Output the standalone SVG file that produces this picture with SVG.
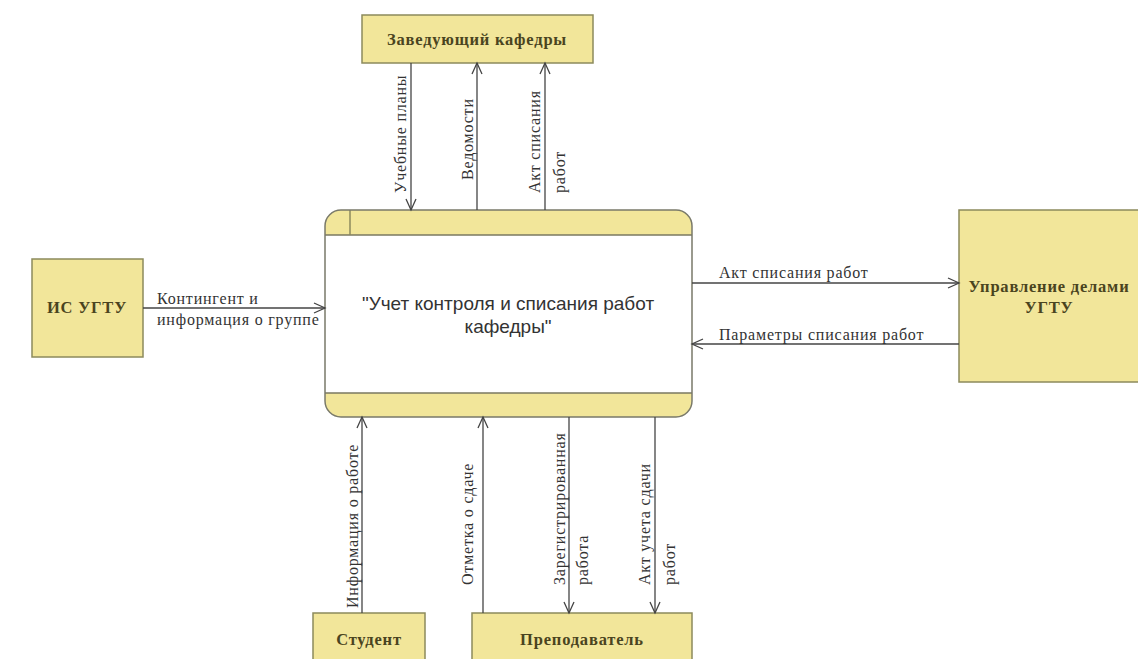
<svg xmlns="http://www.w3.org/2000/svg" width="1138" height="659" viewBox="0 0 1138 659">
<style>
.node{fill:#f2e69a;stroke:#8c8a5c;stroke-width:1.5}
.nlabel{font-family:"Liberation Serif",serif;font-size:16.5px;font-weight:bold;letter-spacing:0.8px;fill:#4a4420;text-anchor:middle}
.flow{stroke:#444;stroke-width:1.3;fill:none;marker-end:url(#arr)}
.lbl{font-family:"Liberation Serif",serif;font-size:16px;letter-spacing:0.8px;fill:#333}
.main{font-family:"Liberation Sans",sans-serif;font-size:19px;fill:#333;text-anchor:middle}
</style>
<defs>
<marker id="arr" markerWidth="14" markerHeight="12" refX="12" refY="6" orient="auto" markerUnits="userSpaceOnUse">
<path d="M1,1 L12,6 L1,11" fill="none" stroke="#444" stroke-width="1.3"/>
</marker>
<clipPath id="mc"><rect x="325" y="210" width="367" height="207" rx="16"/></clipPath>
</defs>
<rect width="1138" height="659" fill="#fff"/>

<g id="main">
<g clip-path="url(#mc)">
<rect x="325" y="210" width="367" height="207" fill="#fff"/>
<rect x="325" y="210" width="367" height="25" fill="#f2e69a"/>
<rect x="325" y="393" width="367" height="24" fill="#f2e69a"/>
</g>
<line x1="325" y1="235" x2="692" y2="235" stroke="#7a7860" stroke-width="1.3"/>
<line x1="325" y1="393" x2="692" y2="393" stroke="#7a7860" stroke-width="1.3"/>
<line x1="350" y1="210" x2="350" y2="235" stroke="#8c8a5c" stroke-width="1.5"/>
<rect x="325" y="210" width="367" height="207" rx="16" fill="none" stroke="#7a7a6a" stroke-width="1.5"/>
<text class="main" x="508" y="310">"Учет контроля и списания работ</text>
<text class="main" x="508" y="333">кафедры"</text>
</g>

<g id="zav">
<rect class="node" x="362" y="15" width="231" height="48"/>
<text class="nlabel" x="477" y="45">Заведующий кафедры</text>
</g>

<g id="is">
<rect class="node" x="32" y="259" width="111" height="98"/>
<text class="nlabel" x="87" y="313">ИС УГТУ</text>
</g>

<g id="upr">
<rect class="node" x="959" y="210" width="185" height="172"/>
<text class="nlabel" x="1049" y="292">Управление делами</text>
<text class="nlabel" x="1049" y="313">УГТУ</text>
</g>

<g id="stud">
<rect class="node" x="313" y="613" width="112" height="60"/>
<text class="nlabel" x="369" y="645">Студент</text>
</g>

<g id="prep">
<rect class="node" x="472" y="613" width="220" height="60"/>
<text class="nlabel" x="582" y="645">Преподаватель</text>
</g>

<g id="connectors">
<path class="flow" d="M411,63 V210"/>
<path class="flow" d="M477,210 V63"/>
<path class="flow" d="M545,210 V63"/>
<path class="flow" d="M143,308 H325"/>
<path class="flow" d="M692,283 H959"/>
<path class="flow" d="M959,344 H692"/>
<path class="flow" d="M362,613 V417"/>
<path class="flow" d="M483,613 V417"/>
<path class="flow" d="M569,417 V613"/>
<path class="flow" d="M655,417 V613"/>

<text class="lbl" transform="translate(406,193) rotate(-90)">Учебные планы</text>
<text class="lbl" transform="translate(473,180) rotate(-90)">Ведомости</text>
<text class="lbl" transform="translate(540,193) rotate(-90)">Акт списания</text>
<text class="lbl" transform="translate(565,193) rotate(-90)">работ</text>
<text class="lbl" x="157" y="304">Контингент и</text>
<text class="lbl" x="157" y="325">информация о группе</text>
<text class="lbl" x="719" y="278">Акт списания работ</text>
<text class="lbl" x="719" y="340">Параметры списания работ</text>
<text class="lbl" transform="translate(358,608) rotate(-90)">Информация о работе</text>
<text class="lbl" transform="translate(473,585) rotate(-90)">Отметка о сдаче</text>
<text class="lbl" transform="translate(565,585) rotate(-90)">Зарегистрированная</text>
<text class="lbl" transform="translate(588,585) rotate(-90)">работа</text>
<text class="lbl" transform="translate(650,585) rotate(-90)">Акт учета сдачи</text>
<text class="lbl" transform="translate(675,585) rotate(-90)">работ</text>
</g>
</svg>
